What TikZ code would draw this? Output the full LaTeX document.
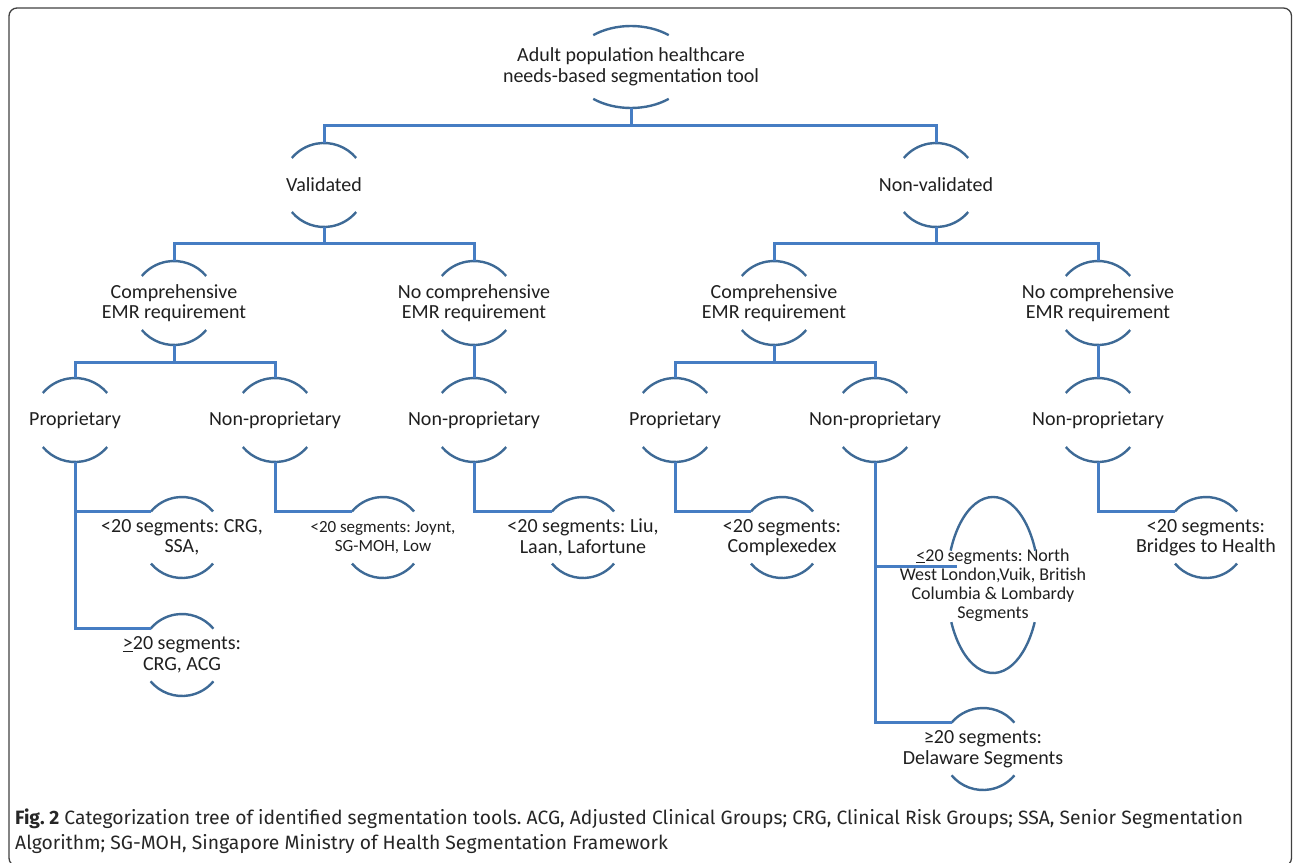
\documentclass[tikz,border=0pt]{standalone}
\usepackage{fontspec}
\usetikzlibrary{shapes.geometric}
\setmainfont{Carlito}
\newfontfamily\capfont{Fira Sans}
\frenchspacing
\definecolor{linkblue}{RGB}{70,125,195}
\definecolor{rimblue}{RGB}{62,106,150}
\tikzset{
  hub/.style={circle, minimum size=#1, inner sep=0pt, outer sep=0pt},
  oval/.style 2 args={ellipse, minimum width=#1, minimum height=#2, inner sep=0pt, outer sep=0pt},
  tag/.style={align=center, text=black!88, inner sep=0pt, font=\fontsize{20}{20.5}\selectfont},
  smalltag/.style={tag, font=\fontsize{17}{19}\selectfont},
  link/.style={draw=linkblue, line width=3pt},
  rim/.style={draw=rimblue, line width=2.4pt},
}
\begin{document}
\begin{tikzpicture}[x=1pt, y=1pt]
\useasboundingbox (0,0) rectangle (1293,-862);

% Marco
\draw[black!75, line width=1.3pt, rounded corners=8pt] (9,-8) rectangle (1291.5,-866);

% Raiz y primer nivel
\node[oval={120pt}{82pt}, label={[tag, font=\fontsize{20}{21}\selectfont]center:{Adult population healthcare\\needs-based segmentation tool}}] (root) at (631,-67) {};
\node[hub=84pt, label={[tag]center:Validated}] (val) at (324,-185) {};
\node[hub=84pt, label={[tag]center:Non-validated}] (nval) at (936,-185) {};

% EMR
\node[hub=84pt, label={[tag]center:{Comprehensive\\EMR requirement}}] (compL) at (174,-303) {};
\node[hub=84pt, label={[tag]center:{No comprehensive\\EMR requirement}}] (nocompL) at (474,-303) {};
\node[hub=84pt, label={[tag]center:{Comprehensive\\EMR requirement}}] (compR) at (774,-303) {};
\node[hub=84pt, label={[tag]center:{No comprehensive\\EMR requirement}}] (nocompR) at (1098,-303) {};

% Licencia
\node[hub=84pt, label={[tag]center:Proprietary}] (propA) at (75,-420) {};
\node[hub=84pt, label={[tag]center:Non-proprietary}] (npA) at (275,-420) {};
\node[hub=84pt, label={[tag]center:Non-proprietary}] (npB) at (474,-420) {};
\node[hub=84pt, label={[tag]center:Proprietary}] (propB) at (675,-420) {};
\node[hub=84pt, label={[tag]center:Non-proprietary}] (npC) at (875,-420) {};
\node[hub=84pt, label={[tag]center:Non-proprietary}] (npD) at (1098,-420) {};

% Hojas
\node[hub=81pt, label={[tag]center:{<20 segments: CRG,\\SSA,}}] (crg) at (182,-537.5) {};
\node[hub=82pt, label={[tag]center:{\underline{>}20 segments:\\CRG, ACG}}] (acg) at (182,-655) {};
\node[hub=81pt, label={[smalltag]center:{<20 segments: Joynt,\\SG-MOH, Low}}] (joynt) at (383,-537.5) {};
\node[hub=81pt, label={[tag]center:{<20 segments: Liu,\\Laan, Lafortune}}] (liu) at (583,-537.5) {};
\node[hub=81pt, label={[tag]center:{<20 segments:\\Complexedex}}] (cplx) at (782,-537.5) {};
\node[oval={92pt}{176pt}, label={[smalltag, font=\fontsize{18}{19}\selectfont]center:{\underline{<}20 segments: North\\West London,Vuik, British\\Columbia \& Lombardy\\Segments}}] (north) at (993,-585) {};
\node[hub=82pt, label={[tag]center:{≥20 segments:\\Delaware Segments}}] (dela) at (983,-749) {};
\node[hub=81pt, label={[tag]center:{<20 segments:\\Bridges to Health}}] (bridges) at (1206,-537.5) {};
\coordinate (nend) at ([shift={(-36,19)}]north.center);

% Arcos
\foreach \n/\r in {val/42, nval/42, compL/42, nocompL/42, compR/42, nocompR/42,
    propA/42, npA/42, npB/42, propB/42, npC/42, npD/42,
    crg/40.5, joynt/40.5, liu/40.5, cplx/40.5, bridges/40.5, acg/41, dela/41}
{
  \draw[rim] (\n.40) arc[start angle=40, end angle=140, radius=\r];
  \draw[rim] (\n.220) arc[start angle=220, end angle=320, radius=\r];
}
\draw[rim] ([shift={(51:60 and 41)}]root.center) arc[start angle=51, end angle=129, x radius=60, y radius=41];
\draw[rim] ([shift={(231:60 and 41)}]root.center) arc[start angle=231, end angle=309, x radius=60, y radius=41];
\draw[rim] ([shift={(23:46 and 88)}]north.center) arc[start angle=23, end angle=157, x radius=46, y radius=88];
\draw[rim] ([shift={(205:46 and 88)}]north.center) arc[start angle=205, end angle=335, x radius=46, y radius=88];

% Conectores
\draw[link] (root.south) -- ++(0,-17) coordinate (b0);
\draw[link] (val.north) |- (b0) -| (nval.north);
\draw[link] (val.south) -- ++(0,-16) coordinate (b1);
\draw[link] (compL.north) |- (b1) -| (nocompL.north);
\draw[link] (nval.south) -- ++(0,-16) coordinate (b2);
\draw[link] (compR.north) |- (b2) -| (nocompR.north);
\draw[link] (compL.south) -- ++(0,-17) coordinate (b3);
\draw[link] (propA.north) |- (b3) -| (npA.north);
\draw[link] (compR.south) -- ++(0,-17) coordinate (b4);
\draw[link] (propB.north) |- (b4) -| (npC.north);
\draw[link] (nocompL.south) -- (npB.north);
\draw[link] (nocompR.south) -- (npD.north);
\draw[link] (propA.south) |- (crg.140);
\draw[link] (propA.south) |- (acg.140);
\draw[link] (npA.south) |- (joynt.140);
\draw[link] (npB.south) |- (liu.140);
\draw[link] (propB.south) |- (cplx.140);
\draw[link] (npC.south) |- (nend);
\draw[link] (npC.south) |- (dela.140);
\draw[link] (npD.south) |- (bridges.140);

% Leyenda
\node[anchor=north west, align=left, inner sep=0pt, text=black!85,
  font=\capfont\fontsize{19.3}{25}\selectfont] (cap) at (15,-809)
  {\textbf{Fig. 2} Categorization tree of identified segmentation tools. ACG, Adjusted Clinical Groups; CRG, Clinical Risk Groups; SSA, Senior Segmentation\\Algorithm; SG-MOH, Singapore Ministry of Health Segmentation Framework};
\end{tikzpicture}
\end{document}
